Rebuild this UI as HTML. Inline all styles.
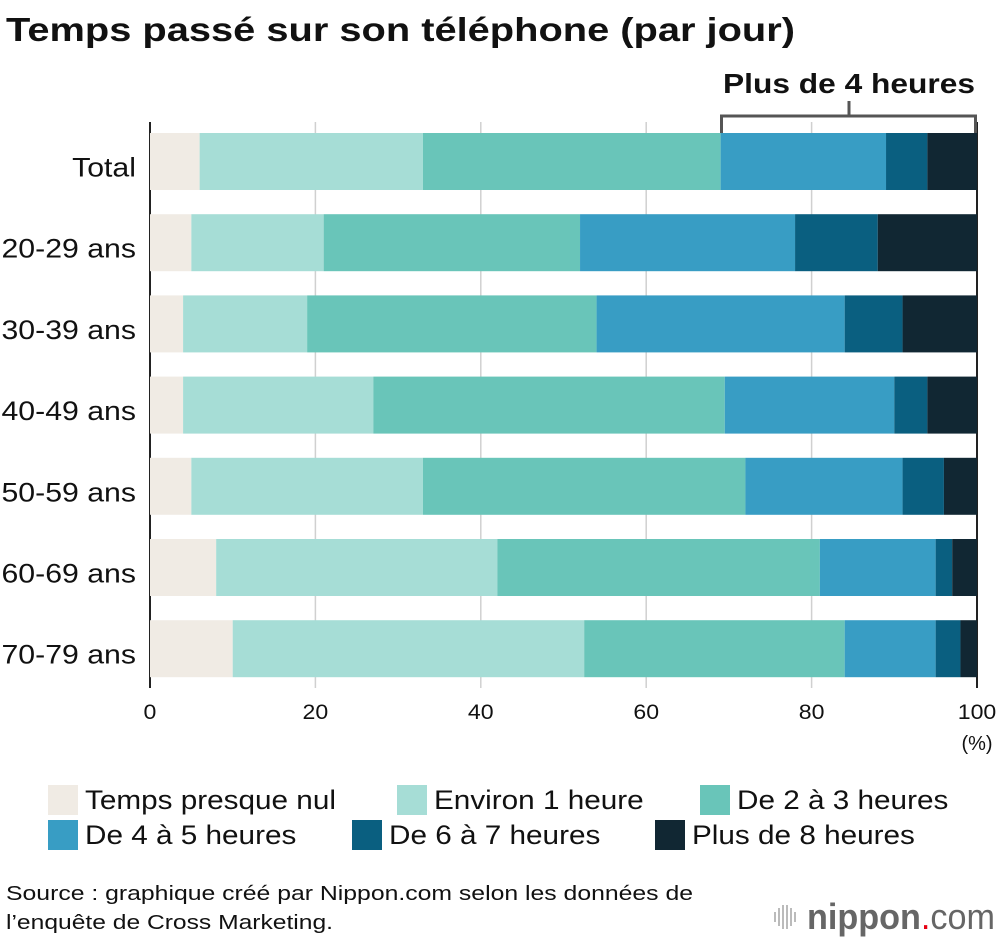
<!DOCTYPE html>
<html><head><meta charset="utf-8"><style>
body{margin:0;background:#fff;font-family:"Liberation Sans",Arial,sans-serif}
svg{display:block}
</style></head><body>
<svg id="c" width="1000" height="940" xmlns="http://www.w3.org/2000/svg">
<text x="6" y="41" font-size="33" font-weight="bold" fill="#111" textLength="789" lengthAdjust="spacingAndGlyphs">Temps passé sur son téléphone (par jour)</text>
<g id="grid"></g><g id="bars"></g><g id="axis"></g>
<g stroke="#555" stroke-width="3" fill="none">
<path d="M721.5,133 V116 H975.5 V133"/><path d="M849,116 V101"/>
</g>
<text x="723" y="93" font-size="28" font-weight="bold" fill="#111" textLength="252" lengthAdjust="spacingAndGlyphs">Plus de 4 heures</text>
<text x="977" y="750" font-size="20" text-anchor="middle" fill="#111">(%)</text>
<g id="legend"></g>
<text x="6" y="900" font-size="20" fill="#111" textLength="687" lengthAdjust="spacingAndGlyphs">Source : graphique créé par Nippon.com selon les données de</text>
<text x="6" y="929" font-size="20" fill="#111" textLength="327" lengthAdjust="spacingAndGlyphs">l’enquête de Cross Marketing.</text>
<g>
<g stroke="#bbb" stroke-width="2"><path d="M775,912V922M779,908V926M783,905V929M787,905V929M791,908V926M795,912V922"/></g>
<text x="807" y="929" font-size="36" fill="#666" textLength="188" lengthAdjust="spacingAndGlyphs"><tspan font-weight="bold">nippon</tspan><tspan fill="#e60012">.</tspan><tspan>com</tspan></text>
</g>
</svg>
<script>
const categories=["Total","20-29 ans","30-39 ans","40-49 ans","50-59 ans","60-69 ans","70-79 ans"];
const seriesNames=["Temps presque nul","Environ 1 heure","De 2 à 3 heures","De 4 à 5 heures","De 6 à 7 heures","Plus de 8 heures"];
const nul=[6,5,4,4,5,8,10];
const h1=[27,16,15,23,28,34,42.5];
const h23=[36,31,35,42.5,39,39,31.5];
const h45=[20,26,30,20.5,19,14,11];
const h67=[5,10,7,4,5,2,3];
const h8=[6,12,9,6,4,3,2];
const ticks=[0,20,40,60,80,100];
const colors=["#f0ebe4","#a6ddd6","#69c5b9","#389dc4","#0a5f80","#112733"];
const series=[nul,h1,h23,h45,h67,h8];
const NS="http://www.w3.org/2000/svg";
const x=v=>150+v*8.27;
const yTop=i=>133+i*81.2;
const BH=57;
function mk(p,t,a){const e=document.createElementNS(NS,t);for(const k in a)e.setAttribute(k,a[k]);p.appendChild(e);return e;}
function widen(t,f){const w=t.getComputedTextLength();t.setAttribute('textLength',w*f);t.setAttribute('lengthAdjust','spacingAndGlyphs');}
const grid=document.getElementById('grid'),bars=document.getElementById('bars'),axis=document.getElementById('axis'),legend=document.getElementById('legend');
ticks.forEach(t=>{
 const l=mk(grid,'line',{x1:x(t),x2:x(t),y1:122,y2:688,stroke:(t==0||t==100)?'#222':'#d0d0d0','stroke-width':(t==0||t==100)?2:1.5});
 
 
 const tx=mk(axis,'text',{x:x(t),y:719,'font-size':21,'text-anchor':'middle',fill:'#111'});tx.textContent=t;
 
 
 widen(tx,1.1);
});
categories.forEach((c,i)=>{
 let acc=0;
 series.forEach((s,j)=>{
  const r=mk(bars,'rect',{x:x(acc),y:yTop(i),width:x(acc+s[i])-x(acc),height:BH,fill:colors[j]});
  
  
  acc+=s[i];
 });
 const t=mk(axis,'text',{x:136,y:yTop(i)+BH/2+15,'font-size':27,'text-anchor':'end',fill:'#111'});t.textContent=c;
 
 
 widen(t,1.12);
});
const lxs=[[48,397,700],[48,352,655]],ly=[785,820];
seriesNames.forEach((n,k)=>{
 const r=Math.floor(k/3),gx=lxs[r][k%3],gy=ly[r];
 const g=mk(legend,'g',{});
 
 
 mk(g,'rect',{x:gx,y:gy,width:30,height:30,fill:colors[k]});
 const t=mk(g,'text',{x:gx+37,y:gy+24,'font-size':27,fill:'#111'});t.textContent=n;
 widen(t,1.1);
});
</script>
</body></html>
